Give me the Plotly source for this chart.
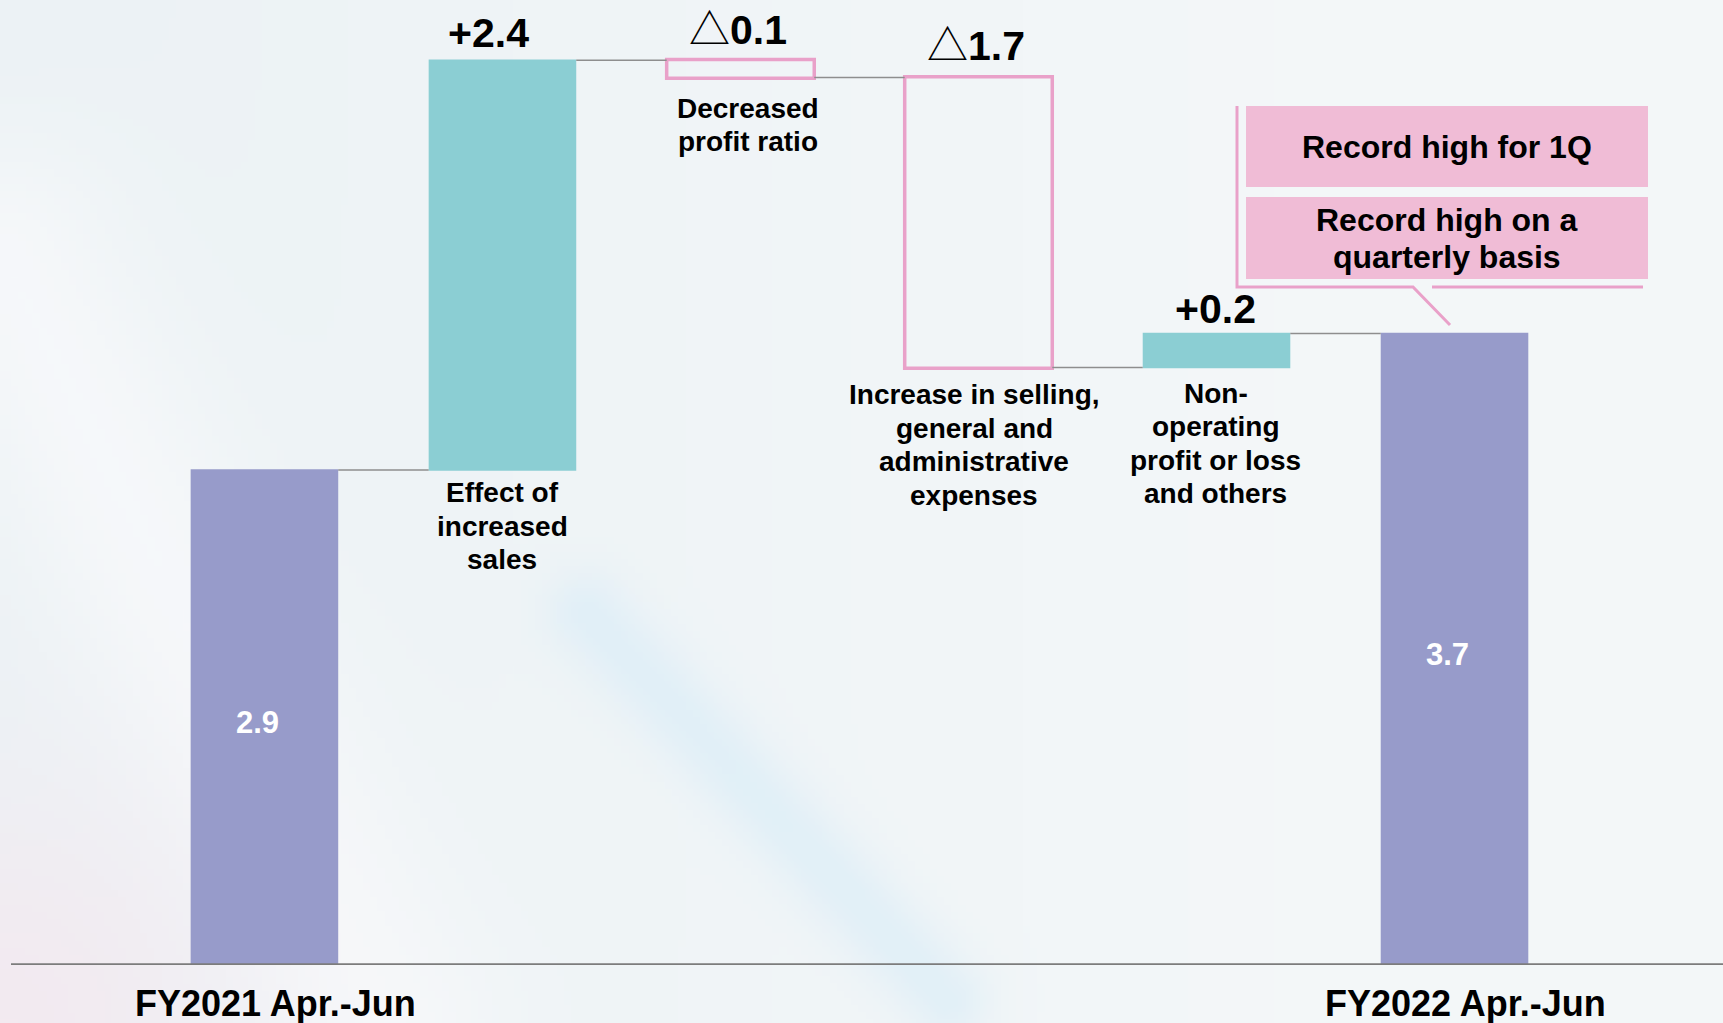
import base64
import struct
import zlib

import numpy as np
import plotly.graph_objects as go

# ---------------- data ----------------
categories = [
    "FY2021 Apr.-Jun",
    "Effect of increased sales",
    "Decreased profit ratio",
    "Increase in selling, general and administrative expenses",
    "Non-operating profit or loss and others",
    "FY2022 Apr.-Jun",
]
measures = ["absolute", "relative", "relative", "relative", "relative", "total"]
values = [2.9, 2.4, -0.1, -1.7, 0.2, 3.7]
value_labels = ["2.9", "+2.4", "△<b>0.1</b>", "△<b>1.7</b>", "+0.2", "3.7"]
item_labels = [
    "FY2021 Apr.-Jun",
    "Effect of<br>increased<br>sales",
    "Decreased<br>profit ratio",
    "Increase in selling,<br>general and<br>administrative<br>expenses",
    "Non-<br>operating<br>profit or loss<br>and others",
    "FY2022 Apr.-Jun",
]
callout_texts = ["Record high for 1Q", "Record high on a<br>quarterly basis"]

# ---------------- styling ----------------
W, H = 1723, 1023
PLOT_H = 965
TEAL = "#8BCED3"
PURPLE = "#979BCA"
PINK_LINE = "#E9A1C9"
PINK_FILL = "#F0BCD6"
FONT = "Liberation Sans, Arial, Noto Sans CJK JP, sans-serif"
LINE_STEP = 33.5                      # px between wrapped label lines
# per-bar label offsets (px): value label above top, item label below bottom, x shifts
VALUE_UP = [0, 27, 30, 31, 24, 0]
VALUE_DX = [-7, -14, -2, -2, -1, -7]
ITEM_DOWN = [0, 22.5, 31, 27, 25.5, 0]
ITEM_DX = [11, 0, 8, -4, -1, 11]


def px_x(p):
    return p / W


def px_y(p):
    return (PLOT_H - p) / PLOT_H


# background image (soft gradient)
def make_background():
    w, h = 240, 142
    u = np.linspace(0, 1, w)[None, :] * (W / H)
    v = np.linspace(0, 1, h)[:, None]
    base = np.array([236, 242, 245], dtype=float)
    img = np.ones((h, w, 3)) * base
    bright = np.clip(u / (W / H) * 1.3, 0, 1)[..., None]
    img = img * (1 - 0.65 * bright) + np.array([248, 250, 251]) * 0.65 * bright

    def seg(p0, p1, width):
        ax, ay = p0[0] * W / H, p0[1]
        bx, by = p1[0] * W / H, p1[1]
        dx, dy = bx - ax, by - ay
        t = np.clip(((u - ax) * dx + (v - ay) * dy) / (dx * dx + dy * dy), 0, 1)
        dist = np.hypot(u - (ax + t * dx), v - (ay + t * dy))
        return np.exp(-(dist / width) ** 2)

    wb = seg((0.0, 0.25), (0.22, 1.0), 0.12)[..., None] * 0.75
    img = img * (1 - wb) + np.array([249, 250, 252]) * wb
    bb = seg((0.34, 0.60), (0.55, 0.98), 0.04)[..., None] * 0.55
    img = img * (1 - bb) + np.array([214, 236, 248]) * bb
    pk = np.exp(-((u ** 2 + (v - 1.0) ** 2) / 0.05))[..., None] * 0.7
    img = img * (1 - pk) + np.array([246, 231, 239]) * pk
    arr = np.clip(img, 0, 255).astype(np.uint8)

    raw = b"".join(b"\x00" + row.tobytes() for row in arr)

    def chunk(t, d):
        return (struct.pack(">I", len(d)) + t + d
                + struct.pack(">I", zlib.crc32(t + d) & 0xFFFFFFFF))

    png = (b"\x89PNG\r\n\x1a\n"
           + chunk(b"IHDR", struct.pack(">IIBBBBB", w, h, 8, 2, 0, 0, 0))
           + chunk(b"IDAT", zlib.compress(raw, 9))
           + chunk(b"IEND", b""))
    return "data:image/png;base64," + base64.b64encode(png).decode()


# cumulative levels
starts, ends = [], []
level = 0.0
for m, val in zip(measures, values):
    if m == "absolute":
        s, e = 0.0, val
    elif m == "relative":
        s, e = level, level + val
    else:
        s, e = 0.0, level
    level = e
    starts.append(s)
    ends.append(e)

fig = go.Figure()
fig.add_trace(go.Waterfall(
    x=categories,
    y=values,
    measure=measures,
    width=0.62,
    increasing=dict(marker=dict(color=TEAL, line=dict(width=0))),
    decreasing=dict(marker=dict(color="rgba(0,0,0,0)", line=dict(color=PINK_LINE, width=3.5))),
    totals=dict(marker=dict(color=PURPLE, line=dict(width=0))),
    connector=dict(mode="between", line=dict(color="#8E8E8E", width=1.5)),
    hoverinfo="skip",
    showlegend=False,
))

ann = []
for i, (m, s, e) in enumerate(zip(measures, starts, ends)):
    top, bot = max(s, e), min(s, e)
    if m in ("absolute", "total"):
        ann.append(dict(x=categories[i], y=(s + e) / 2, text=value_labels[i],
                        showarrow=False, xshift=VALUE_DX[i], yshift=-5, yanchor="middle",
                        xanchor="center",
                        font=dict(family=FONT, size=31, color="white", weight="bold")))
        ann.append(dict(x=categories[i], y=0, text=item_labels[i], showarrow=False,
                        yanchor="middle", xanchor="center", yshift=-38, xshift=ITEM_DX[i],
                        font=dict(family=FONT, size=36, color="black", weight="bold")))
    else:
        weight = "bold" if values[i] > 0 else "normal"
        ann.append(dict(x=categories[i], y=top, text=value_labels[i], showarrow=False,
                        yanchor="middle", xanchor="center", yshift=VALUE_UP[i],
                        xshift=VALUE_DX[i],
                        font=dict(family=FONT, size=41, color="black", weight=weight)))
        for k, line in enumerate(item_labels[i].split("<br>")):
            ann.append(dict(x=categories[i], y=bot, text=line, showarrow=False,
                            yanchor="middle", xanchor="center",
                            yshift=-(ITEM_DOWN[i] + k * LINE_STEP), xshift=ITEM_DX[i],
                            font=dict(family=FONT, size=28, color="black", weight="bold")))

# callout texts
callout_lines = [callout_texts[0]] + callout_texts[1].split("<br>")
callout_y = [146.5, 220, 257]
for t, yy in zip(callout_lines, callout_y):
    ann.append(dict(xref="paper", yref="paper", x=px_x(1447), y=px_y(yy), text=t,
                    showarrow=False, yanchor="middle", xanchor="center",
                    font=dict(family=FONT, size=32, color="black", weight="bold")))

shapes = [
    # baseline
    dict(type="line", xref="paper", yref="y", x0=px_x(11), x1=1, y0=0, y1=0,
         line=dict(color="#7C7C7C", width=3.5), layer="above"),
    # callout boxes
    dict(type="rect", xref="paper", yref="paper", x0=px_x(1246), x1=px_x(1648),
         y0=px_y(187), y1=px_y(106), fillcolor=PINK_FILL, line=dict(width=0)),
    dict(type="rect", xref="paper", yref="paper", x0=px_x(1246), x1=px_x(1648),
         y0=px_y(279), y1=px_y(197), fillcolor=PINK_FILL, line=dict(width=0)),
    # callout outline with pointer
    dict(type="path", xref="paper", yref="paper",
         path=(f"M {px_x(1237)},{px_y(106)} L {px_x(1237)},{px_y(287)} "
               f"L {px_x(1413)},{px_y(287)} L {px_x(1450)},{px_y(325)}"),
         line=dict(color=PINK_LINE, width=3)),
    dict(type="line", xref="paper", yref="paper", x0=px_x(1432), x1=px_x(1643),
         y0=px_y(287), y1=px_y(287), line=dict(color=PINK_LINE, width=3)),
]

fig.update_layout(
    width=W, height=H,
    margin=dict(l=0, r=0, t=0, b=H - PLOT_H, pad=0),
    paper_bgcolor="#EFF4F7",
    plot_bgcolor="rgba(0,0,0,0)",
    showlegend=False,
    xaxis=dict(range=[-1.111, 6.128], showticklabels=False, showgrid=False,
               zeroline=False, showline=False, ticks=""),
    yaxis=dict(range=[0, 5.6535], showticklabels=False, showgrid=False,
               zeroline=False, showline=False, ticks=""),
    annotations=ann,
    shapes=shapes,
    images=[dict(source=make_background(), xref="paper", yref="paper", x=0, y=1,
                 sizex=1, sizey=H / PLOT_H, sizing="stretch", xanchor="left",
                 yanchor="top", layer="below")],
)

fig.write_html("out.html")
